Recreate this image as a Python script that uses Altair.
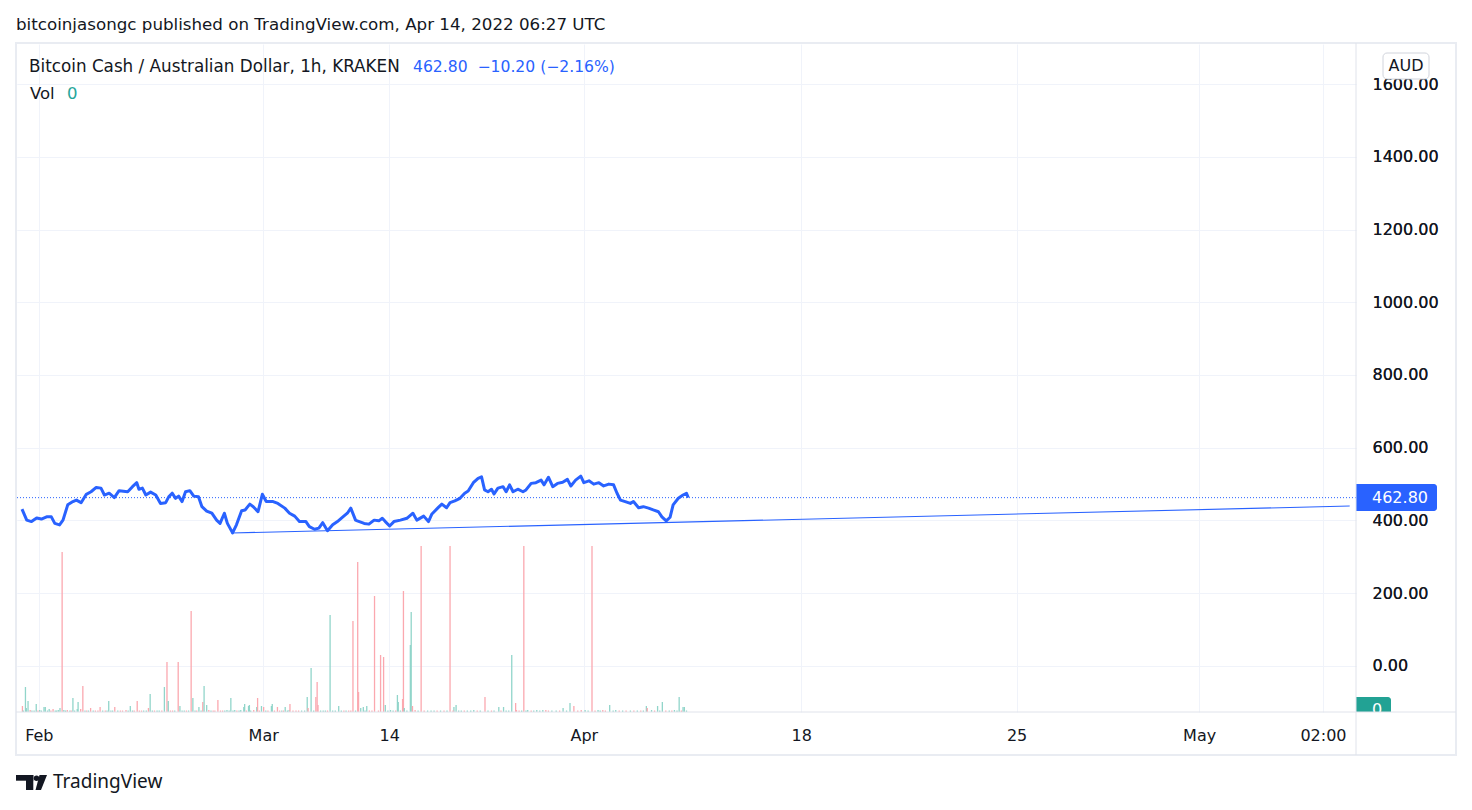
import altair as alt
import pandas as pd

FONT = "DejaVu Sans"
LOGO_FONT = "Noto Sans"
INK = "#131722"
BLUE = "#2962FF"
GRID = "#F0F3FA"
SEP = "#E0E3EB"
TEAL = "#26A69A"
VOL_UP = "#91D5CA"
VOL_DOWN = "#FBA8AF"

# ---- price series (hourly bar index, close in AUD) ----
bar = [0, 11, 22, 34, 45, 57, 68, 76, 87, 95,
       106, 118, 126, 137, 149, 160, 172, 183, 191, 202,
       214, 225, 245, 256, 266, 271, 279, 287, 298, 310,
       321, 333, 340, 348, 356, 363, 371, 379, 389, 398,
       409, 417, 428, 440, 451, 459, 469, 476, 488, 497,
       509, 517, 528, 536, 547, 557, 566, 582, 593, 609,
       620, 632, 643, 658, 666, 678, 688, 697, 708, 720,
       731, 743, 754, 762, 773, 777, 793, 804, 816, 827,
       835, 842, 852, 862, 877, 892, 906, 915, 931, 942,
       950, 965, 973, 984, 992, 1003, 1015, 1026, 1034, 1046,
       1057, 1065, 1072, 1080, 1088, 1094, 1103, 1115, 1122, 1130,
       1138, 1149, 1161, 1168, 1180, 1191, 1203, 1210, 1220, 1230,
       1241, 1253, 1264, 1272, 1283, 1295, 1302, 1314, 1325, 1337,
       1348, 1360, 1371, 1379, 1387, 1398, 1410, 1417, 1429, 1440,
       1452, 1463, 1475, 1483, 1493, 1502, 1509, 1521, 1532, 1540, 1544]
close = [431, 401, 397, 407, 404, 410, 410, 392, 388, 401,
         443, 452, 456, 449, 472, 479, 491, 489, 470, 475,
         463, 482, 479, 493, 504, 486, 489, 470, 478, 470,
         447, 449, 465, 475, 461, 467, 452, 479, 482, 467,
         465, 438, 426, 420, 401, 392, 420, 392, 366, 388,
         427, 429, 445, 438, 424, 472, 452, 452, 447, 434,
         420, 412, 397, 397, 383, 376, 379, 394, 372, 388,
         397, 409, 420, 434, 401, 399, 392, 390, 401, 399,
         406, 397, 385, 397, 401, 406, 420, 401, 412, 397,
         418, 436, 445, 435, 449, 454, 461, 475, 481, 504,
         516, 520, 484, 479, 486, 473, 489, 493, 479, 498,
         479, 486, 479, 484, 502, 504, 511, 498, 519, 493,
         502, 505, 513, 495, 511, 522, 504, 509, 500, 504,
         495, 500, 498, 475, 456, 452, 447, 452, 435, 438,
         434, 429, 424, 410, 399, 409, 443, 461, 470, 475, 462.8]

# support trendline drawn on the chart
trend_bar = [485, 3077]
trend_price = [365.6, 439.8]

last_close = 462.80
change = -10.20
change_pct = -2.16

# ---- volume (hourly bar index, volume, direction) ----
vol_bar = [1, 8, 10, 14, 19, 33, 41, 51, 54, 63,
           72, 84, 88, 93, 97, 105, 118, 128, 130, 136,
           141, 159, 181, 201, 215, 241, 251, 267, 293, 297,
           330, 336, 339, 362, 366, 392, 396, 410, 419, 422,
           428, 433, 454, 475, 484, 493, 507, 514, 516, 525,
           527, 537, 544, 546, 555, 560, 578, 580, 592, 610,
           619, 621, 661, 663, 670, 681, 684, 686, 714, 734,
           767, 778, 780, 785, 791, 799, 817, 831, 838, 842,
           854, 870, 872, 882, 884, 886, 900, 902, 905, 911,
           925, 992, 1001, 1006, 1047, 1073, 1105, 1116, 1135, 1144,
           1146, 1163, 1172, 1193, 1207, 1214, 1254, 1270, 1279, 1296,
           1305, 1321, 1335, 1346, 1362, 1376, 1447, 1449, 1459, 1473,
           1484, 1512, 1523, 1532, 1535]
vol_val = [60, 250, 40, 110, 20, 80, 20, 50, 50, 30,
           30, 20, 40, 1600, 20, 20, 140, 30, 100, 30,
           260, 40, 50, 110, 50, 20, 60, 110, 40, 180,
           250, 500, 110, 500, 60, 1010, 140, 50, 100, 260,
           70, 20, 120, 20, 140, 20, 20, 50, 80, 60,
           70, 20, 50, 140, 60, 50, 60, 80, 50, 50,
           20, 80, 150, 40, 440, 150, 300, 70, 970, 60,
           910, 1500, 200, 40, 50, 60, 1160, 570, 550, 70,
           20, 170, 100, 130, 1210, 40, 670, 1000, 60, 20,
           1660, 1660, 50, 70, 20, 150, 50, 50, 570, 90,
           20, 1660, 20, 20, 20, 20, 40, 90, 60, 20,
           20, 1660, 20, 20, 70, 20, 60, 40, 20, 60,
           100, 20, 150, 50, 50]
vol_dir = list("duuuduuuuu"
               "duududuuud"
               "dddudduddu"
               "udududuudu"
               "udduuuuuuu"
               "udududuudu"
               "udududdduu"
               "ddduuudddu"
               "uuudduuudd"
               "dduuuduuud"
               "dduuuduudd"
               "ududuuuduu"
               "uuuuu")
# small baseline volume bars
fill_bar = [3, 23, 28, 37, 45, 59, 67, 77, 80, 101,
            111, 114, 122, 146, 150, 154, 165, 170, 176, 187,
            193, 197, 206, 210, 222, 228, 233, 246, 256, 260,
            272, 277, 282, 288, 302, 307, 313, 318, 324, 344,
            349, 354, 371, 376, 381, 386, 401, 405, 415, 438,
            443, 447, 460, 465, 470, 480, 489, 498, 503, 520,
            530, 550, 565, 570, 585, 597, 602, 606, 615, 628,
            635, 641, 648, 655, 676, 692, 698, 703, 708, 720,
            726, 740, 746, 751, 757, 762, 773, 795, 805, 811,
            826, 848, 860, 866, 877, 892, 918, 932, 940, 948,
            955, 962, 970, 978, 985, 999, 1012, 1018, 1025, 1032,
            1040, 1055, 1062, 1080, 1088, 1094, 1110, 1122, 1128, 1152,
            1158, 1168, 1180, 1186, 1200, 1220, 1228, 1238, 1246, 1262,
            1288, 1312, 1328, 1340, 1352, 1370, 1384, 1392, 1400, 1410,
            1418, 1426, 1434, 1440, 1466, 1478, 1492, 1500, 1506, 1518,
            1528, 1540]
fill_dir = list("uuuduuduuu" "uduuduuddu" "duuuudduud" "dduuuduudd"
                "duuuduuduu" "dddduuudud" "ududddudud" "dduuuuuudu"
                "uududduudd" "duuduuuduu" "udududuudu" "uduududuud"
                "uuduuduudu" "dududududu" "dududududu" "du")
fill_vol = 15

# ---- axes ----
tick_bars = [39, 559, 851, 1302, 1806, 2305, 2728, 3015]
tick_labels = ["Feb", "Mar", "14", "Apr", "18", "25", "May", "02:00"]
price_ticks = [0, 200, 400, 600, 800, 1000, 1200, 1400, 1600]

X_DOMAIN = [0, 3080]
Y_DOMAIN = [-126.5, 1710]
VOL_DOMAIN = [0, 6680]
W, H = 1339, 668

label_expr = "''"
for b, l in reversed(list(zip(tick_bars, tick_labels))):
    label_expr = f"datum.value == {b} ? '{l}' : " + label_expr

price_df = pd.DataFrame({"bar": bar, "close": close})
trend_df = pd.DataFrame({"bar": trend_bar, "close": trend_price})
last_df = pd.DataFrame({"close": [last_close]})
vol_df = pd.DataFrame({
    "bar": vol_bar + fill_bar,
    "vol": vol_val + [fill_vol] * len(fill_bar),
    "dir": vol_dir + fill_dir,
})

xs = alt.Scale(domain=X_DOMAIN, nice=False, zero=False)
ys = alt.Scale(domain=Y_DOMAIN, nice=False, zero=False)
x_axis = alt.Axis(values=tick_bars, labelExpr=label_expr, grid=True, gridColor=GRID,
                  ticks=False, domain=False, labelFontSize=16, labelFont=FONT,
                  labelColor=INK, labelPadding=23, labelBaseline="middle",
                  labelOverlap=False, labelFlush=False, title=None, zindex=0)
y_axis = alt.Axis(orient="right", values=price_ticks, format=".2f", grid=True,
                  gridColor=GRID, ticks=False, domain=False, labelAlign="left",
                  labelPadding=16, labelFontSize=16, labelFont=FONT, labelColor=INK,
                  title=None, zindex=0)
X = alt.X("bar:Q", scale=xs, axis=x_axis)
Y = alt.Y("close:Q", scale=ys, axis=y_axis)

vol = alt.Chart(vol_df).mark_bar(size=1.3).encode(
    x=X,
    y=alt.Y("vol:Q", scale=alt.Scale(domain=VOL_DOMAIN, nice=False), axis=None),
    color=alt.Color("dir:N", scale=alt.Scale(domain=["u", "d"], range=[VOL_UP, VOL_DOWN]),
                    legend=None),
)

line = alt.Chart(price_df).mark_line(color=BLUE, strokeWidth=3, strokeJoin="round").encode(x=X, y=Y)
trend = alt.Chart(trend_df).mark_line(color=BLUE, strokeWidth=1.1).encode(x=X, y=Y)
last_rule = alt.Chart(last_df).mark_rule(color=BLUE, strokeWidth=1, strokeDash=[1, 2]).encode(y=Y)
price_text = alt.Chart(last_df).mark_text(align="left", baseline="middle", color="white",
                                          fontSize=16, font=FONT).encode(
    y=Y, x=alt.value(W + 16), text=alt.Text("close:Q", format=".2f"))

price_layer = alt.layer(line, trend, last_rule)


def txt(text, x, y, size, color, align="left", weight="normal", font=FONT):
    return alt.Chart(pd.DataFrame({"t": [text]})).mark_text(
        align=align, baseline="middle", fontSize=size, color=color, font=font,
        fontWeight=weight).encode(x=alt.value(x), y=alt.value(y), text="t:N")


def box(x1, x2, y1, y2, fill, **kw):
    return alt.Chart(pd.DataFrame({"t": [0]})).mark_rect(fill=fill, **kw).encode(
        x=alt.value(x1), x2=alt.value(x2), y=alt.value(y1), y2=alt.value(y2))


def rule(x1, x2, y1, y2, color, width=1):
    return alt.Chart(pd.DataFrame({"t": [0]})).mark_rule(color=color, strokeWidth=width).encode(
        x=alt.value(x1), x2=alt.value(x2), y=alt.value(y1), y2=alt.value(y2))


NBSP = "\u00a0"
header = txt("bitcoinjasongc published on TradingView.com, Apr 14, 2022 06:27 UTC",
             -1, -19, 16.7, INK)
legend1 = txt("Bitcoin Cash / Australian Dollar, 1h, KRAKEN", 12, 23, 16.8, INK)
legend2 = txt(f"{last_close:.2f}{NBSP}{NBSP}\u2212{abs(change):.2f} (\u2212{abs(change_pct):.2f}%)",
              396, 23, 15.6, BLUE)
vol_lbl = txt("Vol", 13, 50, 16.5, INK)
vol_val_lbl = txt("0", 50, 50, 16.5, TEAL)

aud_box = box(W + 27, W + 73, 9, 35, "white", stroke="#D1D4DC", strokeWidth=1, cornerRadius=4)
aud_txt = txt("AUD", W + 50, 22, 16, INK, align="center")

price_box = box(W, W + 81, 440, 467, BLUE, cornerRadiusTopRight=3, cornerRadiusBottomRight=3)

volbox = box(W, W + 35, 653, 668, "#22A294", cornerRadiusTopRight=3)
volbox_txt = txt("0", W + 16, 666, 16, "white")
cover = box(W + 1, W + 98, 668.5, 709, "white")

frame = alt.Chart(pd.DataFrame({"t": [0]})).mark_rect(
    fillOpacity=0, stroke="#E9ECF2", strokeWidth=2).encode(
    x=alt.value(-1), x2=alt.value(W + 100), y=alt.value(-1), y2=alt.value(H + 43))
sep_h = rule(-1, W + 100, H, H, SEP)
sep_v = rule(W, W, -1, H + 43, SEP)

logo_bar = box(-1, 16.3, 731, 736.7, INK)
logo_stem = box(9, 16.3, 731, 746, INK)
logo_dot = alt.Chart(pd.DataFrame({"t": [0]})).mark_point(
    shape="circle", filled=True, color=INK, size=30, opacity=1).encode(
    x=alt.value(19.5), y=alt.value(734.2))
logo_slash = alt.Chart(pd.DataFrame({"t": [0]})).mark_point(
    shape="M-0.24,-1L0.76,-1L-0.04,1L-0.77,1Z", filled=True, color=INK, size=225,
    opacity=1).encode(x=alt.value(24.3), y=alt.value(738.5))
footer = txt("TradingView", 36, 738, 19, INK, font=LOGO_FONT)

chart = alt.layer(
    vol, price_layer, price_box, price_text,
    header, legend1, legend2, vol_lbl, vol_val_lbl,
    aud_box, aud_txt, volbox, volbox_txt, cover,
    frame, sep_h, sep_v,
    logo_bar, logo_stem, logo_dot, logo_slash, footer,
).resolve_scale(y="independent").properties(
    width=W, height=H,
    padding={"left": 9, "top": 36, "right": 104, "bottom": 92},
    autosize=alt.AutoSizeParams(type="none"),
    background="white",
).configure_view(strokeWidth=0)

chart.save("out.html", embed_options={"renderer": "svg", "actions": False})
